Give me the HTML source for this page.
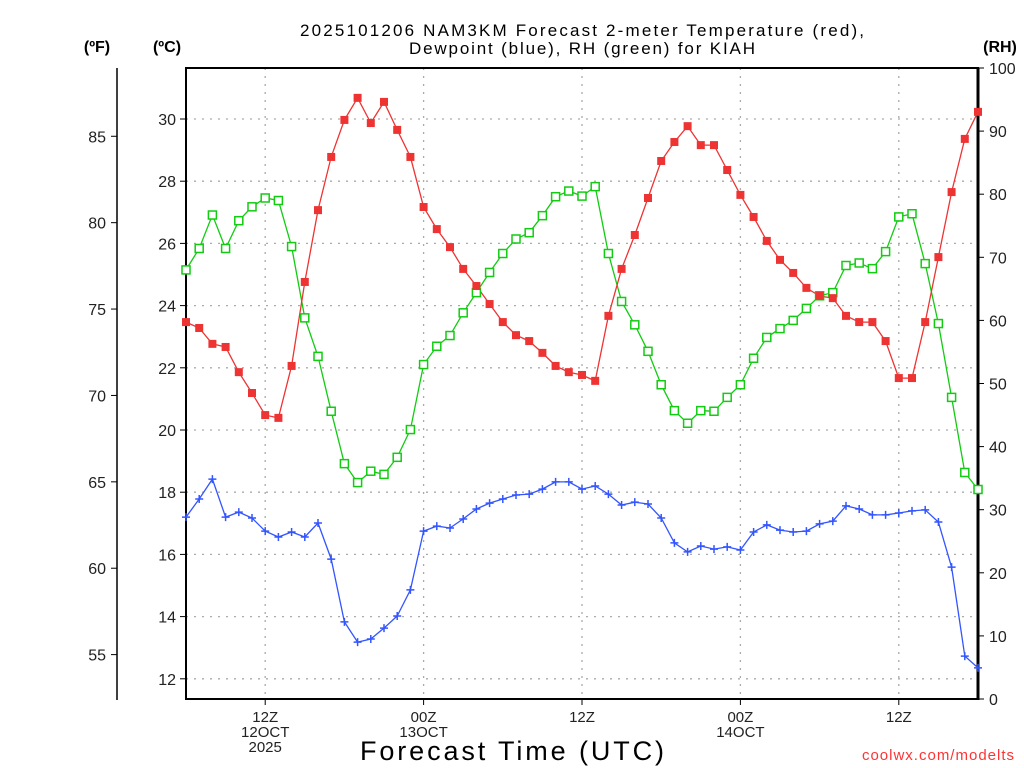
<!DOCTYPE html>
<html><head><meta charset="utf-8"><style>
body{margin:0;background:#fff;}
svg{display:block;font-family:"Liberation Sans",sans-serif;}
</style></head><body>
<svg id="chart" width="1024" height="768" viewBox="0 0 1024 768">
<g id="grid"></g>
<g id="axes"></g>
<g id="series"></g>
<text x="582" y="36" text-anchor="middle" font-size="17" textLength="564" lengthAdjust="spacing">2025101206 NAM3KM Forecast 2-meter Temperature (red),</text>
<text x="582" y="54" text-anchor="middle" font-size="17" textLength="346" lengthAdjust="spacing">Dewpoint (blue), RH (green) for KIAH</text>
<text x="97" y="52" text-anchor="middle" font-size="16" font-weight="bold">(ºF)</text>
<text x="167" y="52" text-anchor="middle" font-size="16" font-weight="bold">(ºC)</text>
<text x="1000" y="52" text-anchor="middle" font-size="16" font-weight="bold">(RH)</text>
<text x="512" y="760" text-anchor="middle" font-size="27" textLength="304" lengthAdjust="spacing">Forecast Time (UTC)</text>
<text x="1015" y="760" text-anchor="end" font-size="15" fill="#ff3333" letter-spacing="1">coolwx.com/modelts</text>
</svg>
<script>
const temps = [23.47,23.28,22.77,22.67,21.86,21.19,20.48,20.39,22.06,24.76,27.07,28.78,29.97,30.68,29.87,30.55,29.65,28.78,27.17,26.46,25.88,25.18,24.63,24.05,23.47,23.05,22.86,22.48,22.06,21.86,21.77,21.58,23.67,25.18,26.27,27.46,28.65,29.26,29.77,29.16,29.16,28.36,27.56,26.85,26.08,25.47,25.05,24.57,24.31,24.24,23.67,23.47,23.47,22.86,21.67,21.67,23.47,25.56,27.65,29.36,30.23];
const dewpoints = [17.20,17.78,18.42,17.20,17.36,17.17,16.75,16.56,16.72,16.56,17.01,15.85,13.83,13.18,13.28,13.63,14.02,14.86,16.75,16.91,16.85,17.14,17.46,17.65,17.78,17.91,17.94,18.10,18.33,18.33,18.10,18.20,17.94,17.59,17.68,17.62,17.17,16.37,16.08,16.27,16.17,16.24,16.14,16.72,16.95,16.78,16.72,16.75,16.98,17.07,17.56,17.46,17.27,17.27,17.33,17.40,17.43,17.04,15.59,12.73,12.35];
const rh = [68.0,71.4,76.7,71.4,75.8,78.0,79.4,79.0,71.7,60.4,54.3,45.6,37.3,34.3,36.1,35.6,38.3,42.7,53.0,55.9,57.6,61.2,64.4,67.6,70.6,72.9,73.9,76.6,79.6,80.5,79.7,81.2,70.6,63.0,59.3,55.1,49.8,45.7,43.7,45.7,45.6,47.8,49.8,54.0,57.3,58.7,60.0,61.9,63.9,64.4,68.7,69.1,68.2,70.9,76.4,76.9,69.0,59.5,47.8,35.9,33.2];
const celsiusTicks = [12,14,16,18,20,22,24,26,28,30];
const fahrenheitTicks = [55,60,65,70,75,80,85];
const rhTicks = [0,10,20,30,40,50,60,70,80,90,100];
const timeTickHours = [6,18,30,42,54];
const timeTickLabels = [["12Z","12OCT","2025"],["00Z","13OCT"],["12Z"],["00Z","14OCT"],["12Z"]];

const L=186,R=978,T=68,B=699;
const xH = h => L + h*(R-L)/60;
const yC = c => 119 + (30-c)*31.1;
const yF = f => yC((f-32)/1.8);
const yRH = v => B - v*(B-T)/100;
const NS='http://www.w3.org/2000/svg';
function mk(parent,tag,attrs,text){const e=document.createElementNS(NS,tag);for(const k in attrs)e.setAttribute(k,attrs[k]);if(text!==undefined)e.textContent=text;parent.appendChild(e);return e;}
const grid=document.getElementById('grid'),axes=document.getElementById('axes'),series=document.getElementById('series');

celsiusTicks.forEach(c=>{
  const y=yC(c);
  const g=mk(grid,'line',{x1:L,x2:R,y1:y,y2:y,stroke:'#aaa','stroke-width':1.3,'stroke-dasharray':'2,6'});
  
  
  const t=mk(axes,'line',{x1:L-6,x2:L,y1:y,y2:y,stroke:'#000'});
  
  
  const lb=mk(axes,'text',{x:L-10,y:y+6,'text-anchor':'end','font-size':16,fill:'#222'},String(c));
  
  
});
timeTickHours.forEach((h,i)=>{
  const x=xH(h);
  const g=mk(grid,'line',{x1:x,x2:x,y1:T,y2:B,stroke:'#aaa','stroke-width':1.3,'stroke-dasharray':'2,6'});
  
  
  const t=mk(axes,'line',{x1:x,x2:x,y1:B,y2:B+6,stroke:'#000'});
  
  
  timeTickLabels[i].forEach((s,j)=>{
    const lb=mk(axes,'text',{x:x,y:722+j*15,'text-anchor':'middle','font-size':15,fill:'#222'},s);
    
    
  });
});
fahrenheitTicks.forEach(f=>{
  const y=yF(f);
  const t=mk(axes,'line',{x1:111,x2:117,y1:y,y2:y,stroke:'#000'});
  
  
  const lb=mk(axes,'text',{x:106,y:y+6,'text-anchor':'end','font-size':16,fill:'#222'},String(f));
  
  
});
rhTicks.forEach(v=>{
  const y=yRH(v);
  const t=mk(axes,'line',{x1:R,x2:R+6,y1:y,y2:y,stroke:'#000'});
  
  
  const lb=mk(axes,'text',{x:989,y:y+6,'font-size':16,fill:'#222'},String(v));
  
  
});
const fa=mk(axes,'line',{x1:117,x2:117,y1:68,y2:700,stroke:'#000','stroke-width':1.5});


const box=mk(axes,'rect',{x:L,y:T,width:R-L,height:B-T,fill:'none',stroke:'#000','stroke-width':2});


const ra=mk(axes,'line',{x1:R,x2:R,y1:T,y2:B+1,stroke:'#000','stroke-width':3});



function line(vals,yf,color,name){
  const pts=vals.map((v,i)=>xH(i).toFixed(1)+','+yf(v).toFixed(1)).join(' ');
  const p=mk(series,'polyline',{points:pts,fill:'none',stroke:color,'stroke-width':1.3});
  
  
}
line(rh,yRH,'#11cc11','rh-line');
line(temps,yC,'#ee3333','temperature-line');
line(dewpoints,yC,'#3355ff','dewpoint-line');
rh.forEach((v,i)=>{
  const m=mk(series,'rect',{x:xH(i)-4,y:yRH(v)-4,width:8,height:8,fill:'#fff',stroke:'#11cc11','stroke-width':1.5});
  
  
});
temps.forEach((v,i)=>{
  const m=mk(series,'rect',{x:xH(i)-4,y:yC(v)-4,width:8,height:8,fill:'#ee3333'});
  
  
});
dewpoints.forEach((v,i)=>{
  const x=xH(i),y=yC(v);
  const m=mk(series,'path',{d:`M${x-4},${y}H${x+4}M${x},${y-4}V${y+4}`,stroke:'#3355ff','stroke-width':1.5});
  
  
});
</script>
</body></html>
